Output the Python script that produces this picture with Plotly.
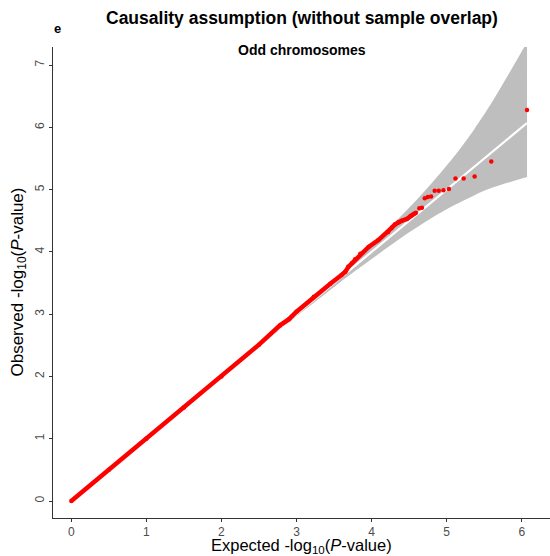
import plotly.graph_objects as go

# Confidence band (expected -log10 P, lower and upper bounds)
band_exp = [0.0, 1.0, 2.07, 2.77, 3.07, 3.47, 3.77, 4.075, 4.48, 4.79, 5.117, 5.226, 5.372, 5.594, 6.07]
band_lo = [0.0, 1.0, 2.059, 2.743, 3.034, 3.41, 3.685, 3.951, 4.298, 4.538, 4.76, 4.827, 4.911, 5.024, 5.203]
band_hi = [0.0, 1.0, 2.083, 2.798, 3.11, 3.532, 3.86, 4.20, 4.683, 5.089, 5.56, 5.733, 5.979, 6.386, 7.367]

# Dense part of the observed vs expected curve
dense_exp = [0.0, 0.5, 1.0, 1.5, 2.0, 2.5, 2.78, 2.9, 3.0, 3.23, 3.45, 3.60, 3.65, 3.69, 3.74, 3.78, 3.85, 3.96, 4.09, 4.22, 4.27, 4.31, 4.36, 4.40, 4.47, 4.52, 4.56, 4.59]
dense_obs = [0.0, 0.5, 1.0, 1.5, 2.0, 2.51, 2.82, 2.92, 3.04, 3.28, 3.49, 3.63, 3.68, 3.76, 3.82, 3.88, 3.97, 4.08, 4.19, 4.32, 4.39, 4.44, 4.48, 4.50, 4.53, 4.58, 4.61, 4.63]

# Sparse tail points
tail_exp = [4.636, 4.67, 4.708, 4.748, 4.792, 4.84, 4.894, 4.957, 5.03, 5.117, 5.226, 5.372, 5.594, 6.07]
tail_obs = [4.70, 4.71, 4.86, 4.88, 4.89, 4.98, 4.98, 4.99, 5.01, 5.18, 5.18, 5.21, 5.45, 6.28]

x_ticks = [0, 1, 2, 3, 4, 5, 6]
y_ticks = [0, 1, 2, 3, 4, 5, 6, 7]

FONT = "Liberation Sans, Arial, Helvetica, sans-serif"

fig = go.Figure()
fig.add_trace(go.Scatter(x=band_exp, y=band_lo, mode="lines", line=dict(width=0, color="#BEBEBE", shape="spline"),
                         hoverinfo="skip", showlegend=False))
fig.add_trace(go.Scatter(x=band_exp, y=band_hi, mode="lines", line=dict(width=0, color="#BEBEBE", shape="spline"),
                         fill="tonexty", fillcolor="#BEBEBE", hoverinfo="skip", showlegend=False))
fig.add_trace(go.Scatter(x=[0, band_exp[-1]], y=[0, band_exp[-1]], mode="lines",
                         line=dict(color="white", width=2.2), showlegend=False))
fig.add_trace(go.Scatter(x=dense_exp, y=dense_obs, mode="lines+markers",
                         line=dict(color="#FF0000", width=4.5), marker=dict(color="#FF0000", size=4.5),
                         showlegend=False))
fig.add_trace(go.Scatter(x=tail_exp, y=tail_obs, mode="markers",
                         marker=dict(color="#FF0000", size=4.5), showlegend=False))

axis_common = dict(showgrid=False, zeroline=False, showline=True, linecolor="#333333", linewidth=1,
                   ticks="outside", ticklen=3, tickcolor="#333333", tickwidth=1,
                   tickfont=dict(family=FONT, size=12, color="#4D4D4D"))
fig.update_xaxes(range=[-0.2436, 6.376], tickvals=x_ticks, **axis_common)
fig.update_yaxes(range=[-0.273, 7.29], tickvals=y_ticks, tickangle=-90, **axis_common)

fig.update_layout(
    width=550, height=556,
    margin=dict(l=53, r=0, t=47, b=38, autoexpand=False),
    plot_bgcolor="white", paper_bgcolor="white",
    font=dict(family=FONT),
    annotations=[
        dict(text="<b>Causality assumption (without sample overlap)</b>", xref="paper", yref="paper",
             x=0.5, y=1.0616, xanchor="center", yanchor="middle", showarrow=False,
             font=dict(family=FONT, size=17.5, color="black")),
        dict(text="<b>e</b>", xref="paper", yref="paper", x=-0.002, y=1.040, xanchor="left", yanchor="middle",
             showarrow=False, font=dict(family=FONT, size=13, color="black")),
        dict(text="<b>Odd chromosomes</b>", xref="paper", yref="paper", x=0.5, y=0.9936,
             xanchor="center", yanchor="middle", showarrow=False,
             font=dict(family=FONT, size=14, color="black")),
        dict(text="Expected -log<sub>10</sub>(<i>P</i>-value)", xref="paper", yref="paper",
             x=0.5, y=-0.0585, xanchor="center", yanchor="middle", showarrow=False,
             font=dict(family=FONT, size=16.5, color="black")),
        dict(text="Observed -log<sub>10</sub>(<i>P</i>-value)", xref="paper", yref="paper",
             x=-0.0704, y=0.5, xanchor="center", yanchor="middle", textangle=-90, showarrow=False,
             font=dict(family=FONT, size=17, color="black")),
    ],
)

fig.write_html("out.html")
